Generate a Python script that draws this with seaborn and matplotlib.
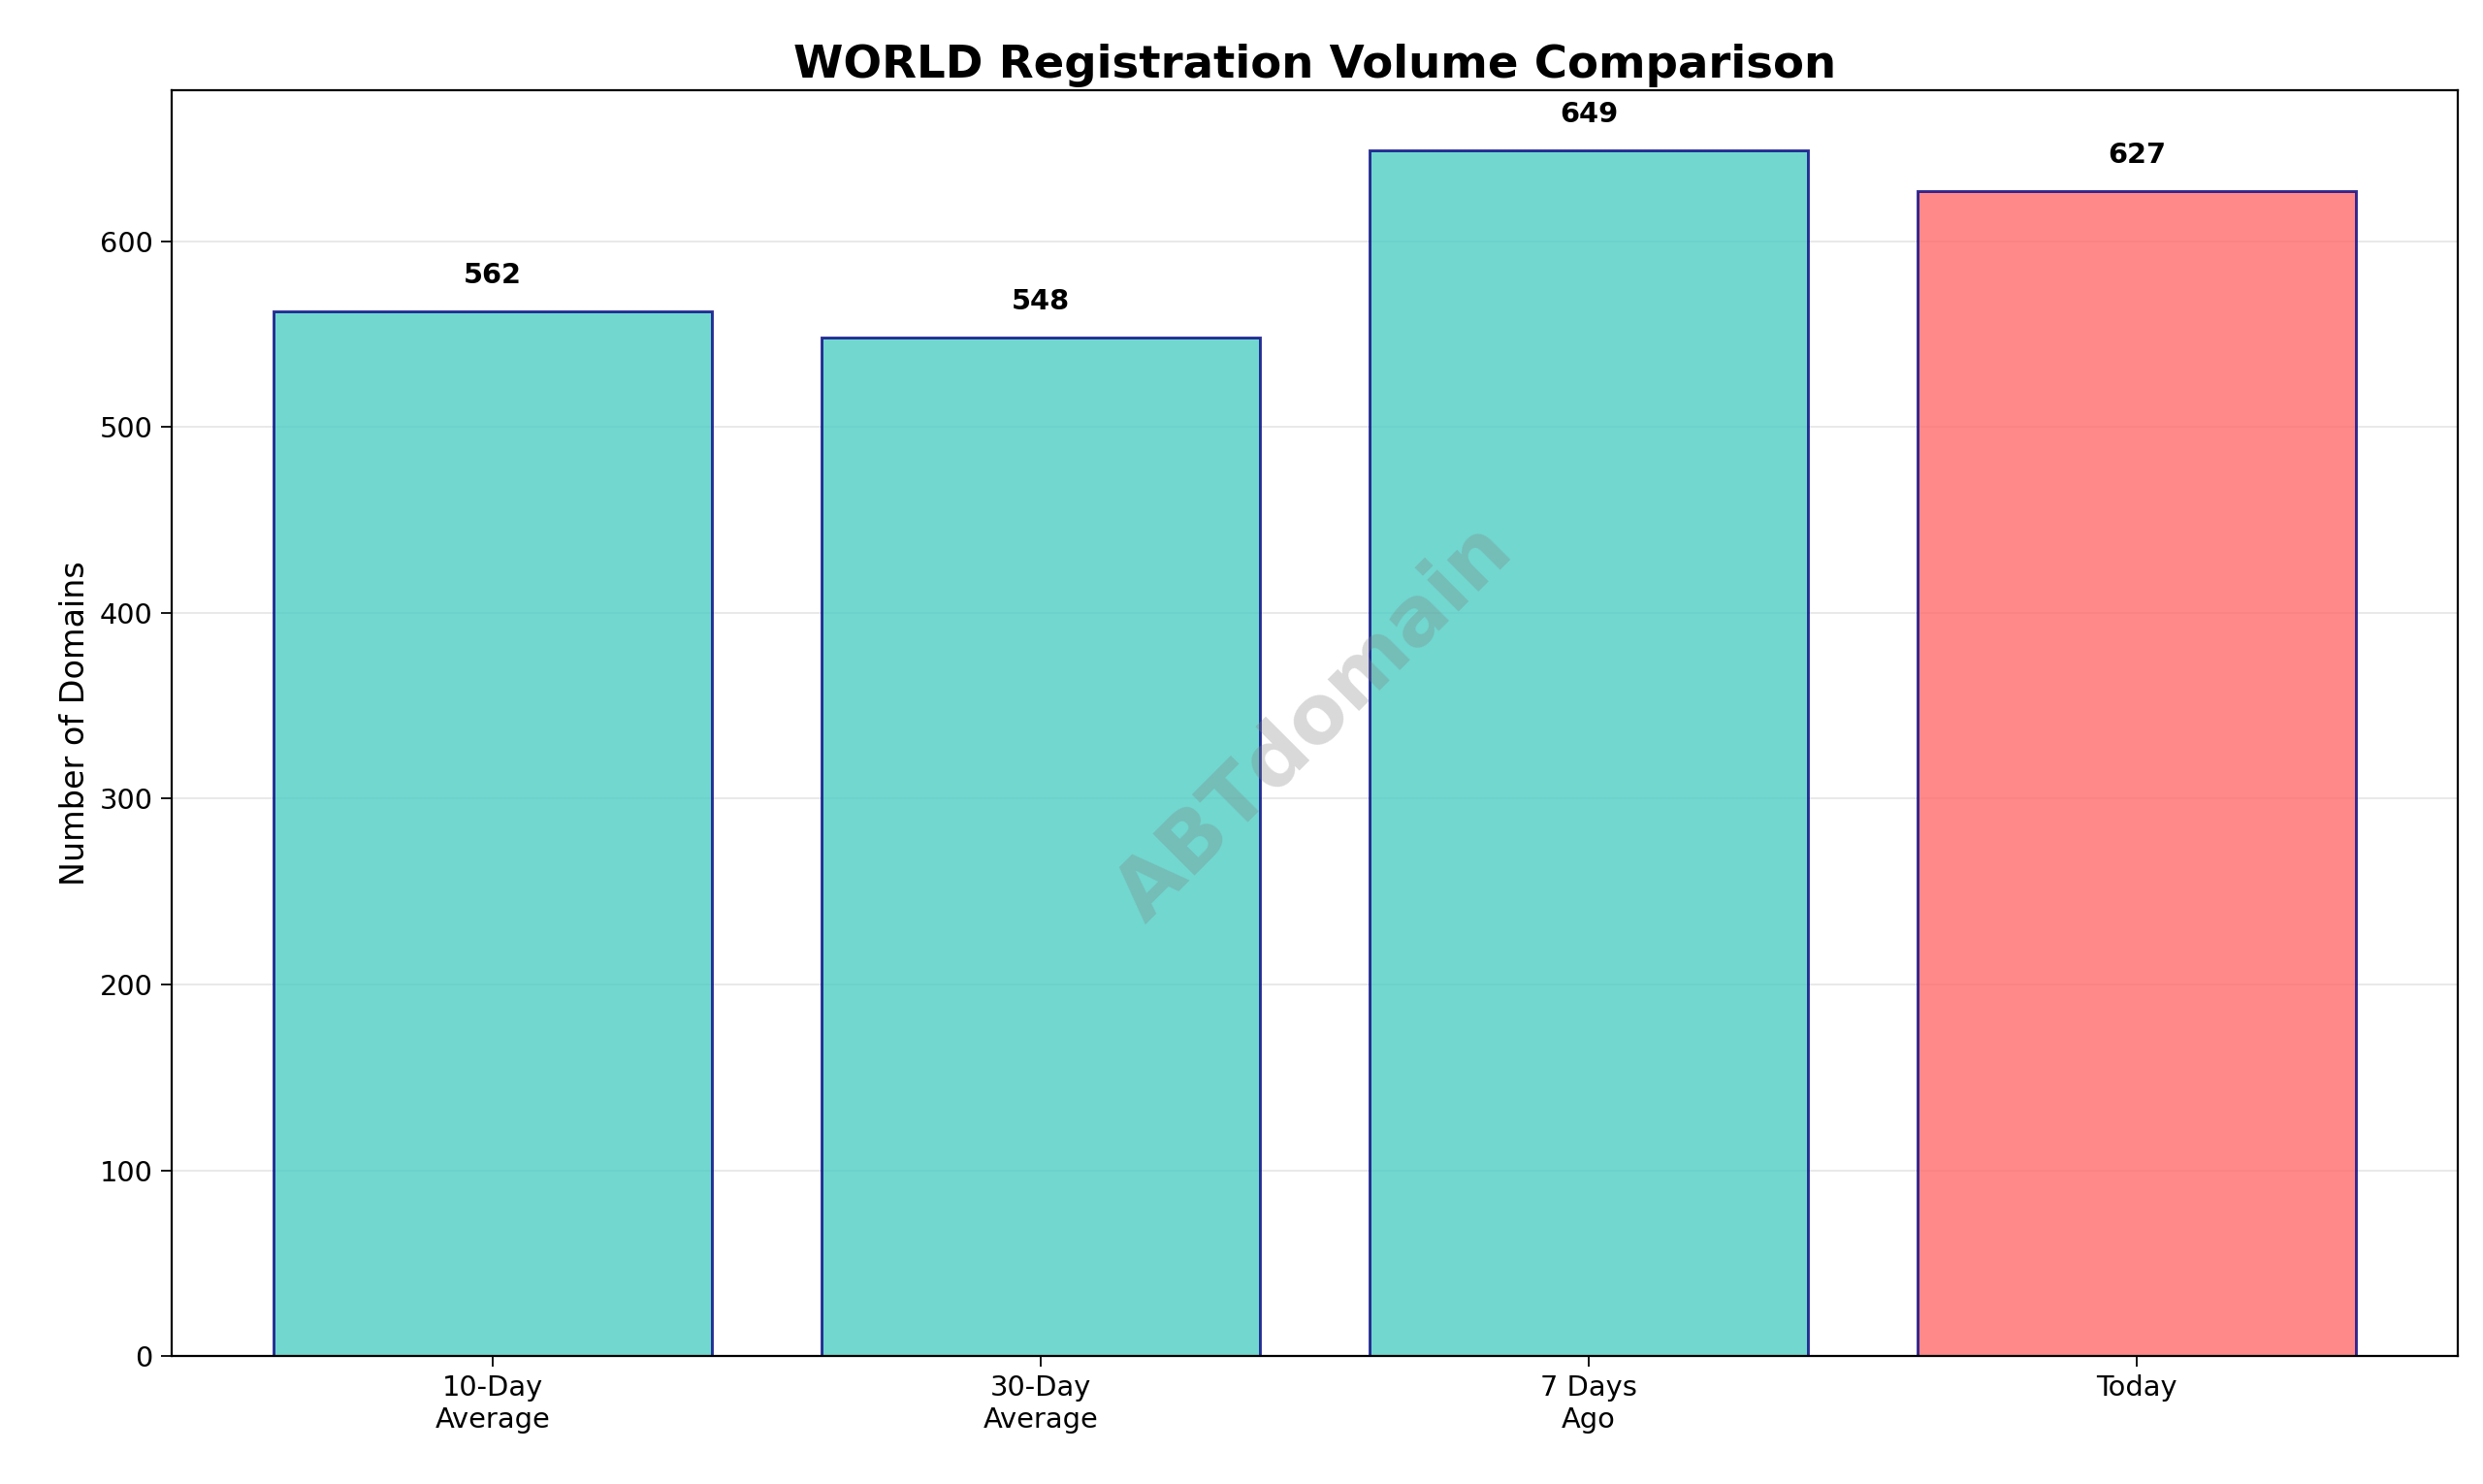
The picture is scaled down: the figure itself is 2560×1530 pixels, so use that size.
import matplotlib
matplotlib.use("Agg")
import matplotlib.pyplot as plt
import seaborn as sns
import pandas as pd

categories = ["10-Day\nAverage", "30-Day\nAverage", "7 Days\nAgo", "Today"]
values = [562, 548, 649, 627]
colors = ["#4ECDC4", "#4ECDC4", "#4ECDC4", "#FF6B6B"]

sns.set_style("white")
plt.rcParams['font.family'] = ['DejaVu Sans']
plt.rcParams['text.color'] = 'black'
plt.rcParams['axes.labelcolor'] = 'black'
plt.rcParams['xtick.color'] = 'black'
plt.rcParams['ytick.color'] = 'black'
fig, ax = plt.subplots(figsize=(16, 9.5625), dpi=160)
fig.subplots_adjust(left=0.069, right=0.99, top=0.939, bottom=0.086)
df = pd.DataFrame({"cat": categories, "val": values})
sns.barplot(data=df, x="cat", y="val", hue="cat", palette=colors, legend=False,
            alpha=0.8, edgecolor="navy", linewidth=1.3, width=0.8, ax=ax, saturation=1)
for i, v in enumerate(values):
    ax.text(i, v + 12, str(v), ha="center", va="bottom", fontsize=13, fontweight="bold", color="black")
ax.set_xlim(-0.587, 3.587)
ax.set_ylim(0, 681)
ax.set_xlabel("")
ax.set_ylabel("Number of Domains", fontsize=15)
ax.set_title("WORLD Registration Volume Comparison", fontsize=21, fontweight="bold", pad=6, color="black")
ax.tick_params(axis="both", labelsize=13, length=5, left=True, bottom=True, colors="black")
ax.yaxis.grid(True, alpha=0.3, color="#b0b0b0")
ax.set_axisbelow(True)
for s in ax.spines.values():
    s.set_color("black")
    s.set_linewidth(1)
ax.text(0.5, 0.5, "ABTdomain", transform=ax.transAxes, fontsize=38, fontweight="bold",
        color="gray", alpha=0.3, rotation=45, ha="center", va="center")
fig.savefig("out.png")
